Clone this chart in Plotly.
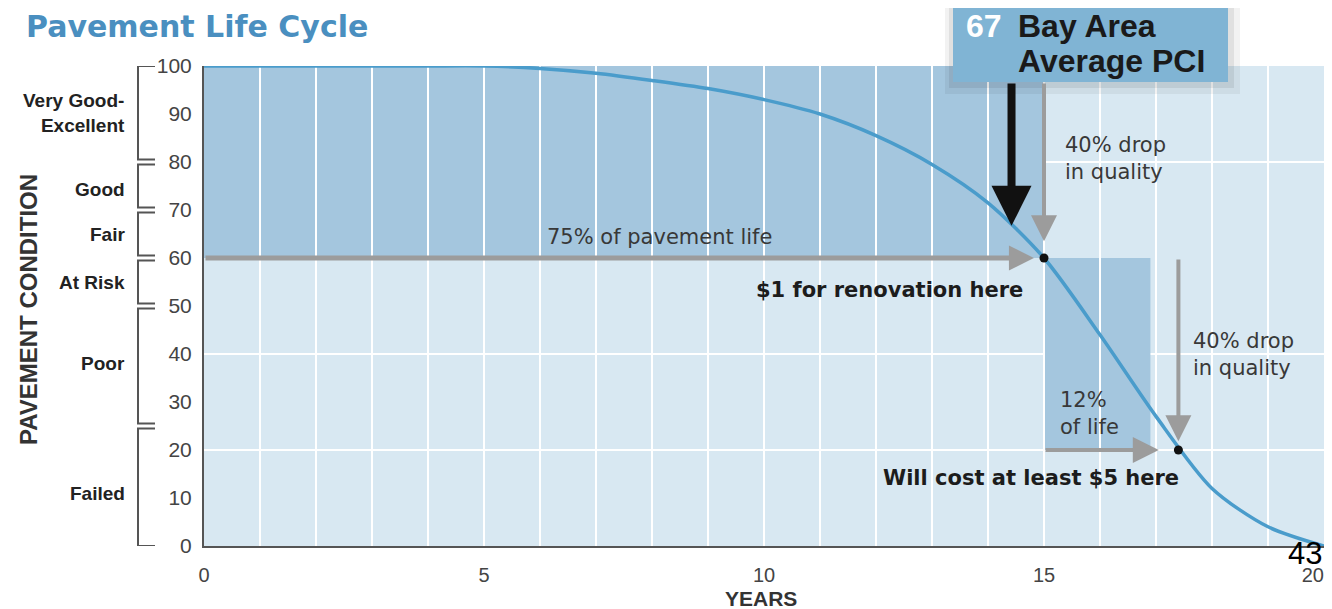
import plotly.graph_objects as go

# ---------------- data ----------------
years = list(range(21))
pci = [100, 100, 100, 100, 100, 100, 99.5, 98.5, 97, 95.3, 93, 90, 85.5, 79.5, 71.5, 60, 44, 27, 12, 4, 0]

x_ticks = [0, 5, 10, 15, 20]
x_tick_text = ["0", "5", "10", "15", "20\u2007\u2007"]
y_ticks = [0, 10, 20, 30, 40, 50, 60, 70, 80, 90, 100]
y_grid = [20, 40, 80]

band_labels = ["Very Good-<br>Excellent", "Good", "Fair", "At Risk", "Poor", "Failed"]
band_top = [100, 80, 70, 60, 50, 25]
band_bot = [80, 70, 60, 50, 25, 0]
band_label_y = [90.2, 74.2, 65, 55, 38, 11]

renew_x, renew_y = 15, 60          # $1 renovation point
late_x, late_y = 17.4, 20          # $5 point
late_zone_right = 16.9
bay_avg_pci = 67
bay_avg_year = 14.42

# ---------------- geometry helpers ----------------
# the page body adds an 8px offset, so the figure margins are shifted by 8px
W, H = 1332, 609
OFF = 8
L, R, T, B = 204 - OFF, 16, 66 - OFF, 71
PW, PH = W - L - R, H - T - B   # 1120 x 480
def px(xp):   # screen pixel -> paper x
    return (xp - OFF - L) / PW
def py(yp):   # screen pixel -> paper y
    return (H - B - (yp - OFF)) / PH

CURVE = "#4a9ccb"
DARK = "#a4c6de"
LIGHT = "#d8e8f2"
GRAY = "#9c9c9c"

fig = go.Figure()

fig.add_trace(go.Scatter(
    x=years, y=pci, mode="lines", line=dict(color=CURVE, width=3.5, shape="spline", smoothing=0.8),
    cliponaxis=False, hoverinfo="skip", showlegend=False))

fig.add_trace(go.Scatter(
    x=[renew_x, late_x], y=[renew_y, late_y], mode="markers",
    marker=dict(color="#111111", size=9), cliponaxis=False, showlegend=False))

shapes = []
shapes.append(dict(type="rect", xref="x", yref="y", x0=0, x1=renew_x, y0=renew_y, y1=100,
                   fillcolor=DARK, line_width=0, layer="below"))
shapes.append(dict(type="rect", xref="x", yref="y", x0=renew_x, x1=late_zone_right, y0=late_y, y1=renew_y,
                   fillcolor=DARK, line_width=0, layer="below"))
for g in y_grid:
    shapes.append(dict(type="line", xref="paper", yref="y", x0=0, x1=1, y0=g, y1=g,
                       line=dict(color="white", width=2), layer="between"))

# brackets
bx, tx = px(138), px(155)
for top, bot in zip(band_top, band_bot):
    t = top - (0.5 if top < 100 else 0)
    b = bot + (0.5 if bot > 0 else 0)
    shapes.append(dict(type="path", xref="paper", yref="y",
                       path=f"M {tx} {t} L {bx} {t} L {bx} {b} L {tx} {b}",
                       line=dict(color="#555555", width=2)))

# callout box shadow + box
shapes.append(dict(type="rect", xref="paper", yref="paper", x0=px(945), x1=px(1240), y0=py(94), y1=py(-10),
                   fillcolor="rgba(0,0,0,0.05)", line_width=0, layer="above"))
shapes.append(dict(type="rect", xref="paper", yref="paper", x0=px(949), x1=px(1234), y0=py(88), y1=py(-10),
                   fillcolor="rgba(0,0,0,0.07)", line_width=0, layer="above"))
shapes.append(dict(type="rect", xref="paper", yref="paper", x0=px(953), x1=px(1228), y0=py(82), y1=py(-10),
                   fillcolor="#80b4d4", line_width=0, layer="above"))

ann = []
ann.append(dict(text="<b>Pavement Life Cycle</b>", xref="paper", yref="paper", x=px(24), y=py(26),
                xanchor="left", yanchor="middle", showarrow=False,
                font=dict(family="DejaVu Sans", size=30, color="#4a8fc0")))
for lab, yv in zip(band_labels, band_label_y):
    ann.append(dict(text=f"<b>{lab}</b>", xref="paper", yref="y", x=px(127), y=yv,
                    xanchor="right", yanchor="middle", align="right", showarrow=False,
                    font=dict(family="Liberation Sans Narrow, Liberation Sans", size=19, color="#222222")))
ann.append(dict(text="<b>PAVEMENT CONDITION</b>", xref="paper", yref="paper", x=px(28), y=py(310),
                textangle=-90, showarrow=False, xanchor="center", yanchor="middle",
                font=dict(family="Liberation Sans", size=24, color="#333333")))
ann.append(dict(text="<b>YEARS</b>", xref="paper", yref="paper", x=px(761), y=py(598),
                showarrow=False, xanchor="center", yanchor="middle",
                font=dict(family="Liberation Sans", size=21, color="#333333")))

ann.append(dict(text="<b>67</b>", xref="paper", yref="paper", x=px(984), y=py(26),
                showarrow=False, xanchor="center", yanchor="middle",
                font=dict(family="Liberation Sans", size=32, color="white")))
ann.append(dict(text="<b>Bay Area</b>", xref="paper", yref="paper", x=px(1016), y=py(26),
                showarrow=False, xanchor="left", yanchor="middle",
                font=dict(family="Liberation Sans", size=32, color="#1a1a1a")))
ann.append(dict(text="<b>Average PCI</b>", xref="paper", yref="paper", x=px(1016), y=py(61),
                showarrow=False, xanchor="left", yanchor="middle",
                font=dict(family="Liberation Sans", size=32, color="#1a1a1a")))

def arrow(x0, y0, x1, y1, color, width, size):
    return dict(x=x1, y=y1, ax=x0, ay=y0, xref="x", yref="y", axref="x", ayref="y",
                text="", showarrow=True, arrowhead=2, arrowsize=size, arrowwidth=width,
                arrowcolor=color, standoff=0)

top_y = (546 - 82) / 4.8
ann.append(arrow(bay_avg_year, top_y, bay_avg_year, bay_avg_pci - 0.3, "#111111", 8, 1.0))
ann.append(arrow(renew_x, top_y, renew_x, renew_y + 3.5, GRAY, 4, 1.3))
ann.append(arrow(0, renew_y, renew_x - 0.18, renew_y, GRAY, 5, 1.0))
ann.append(arrow(late_x, renew_y, late_x, late_y + 1.8, GRAY, 4, 1.3))
ann.append(arrow(renew_x, late_y, late_x - 0.35, late_y, GRAY, 4, 1.3))

reg = dict(family="DejaVu Sans", size=21, color="#383838")
bold = dict(family="DejaVu Sans", size=21, color="#1c1c1c")
ann.append(dict(text="40% drop<br>in quality", x=15.34, y=80.8, xanchor="left", yanchor="middle",
                align="left", showarrow=False, font=reg))
ann.append(dict(text="40% drop<br>in quality", x=17.62, y=39.8, xanchor="left", yanchor="middle",
                align="left", showarrow=False, font=reg))
ann.append(dict(text="12%<br>of life", x=15.25, y=27.6, xanchor="left", yanchor="middle",
                align="left", showarrow=False, font=reg))
ann.append(dict(text="75% of pavement life", x=8.14, y=64.4, xanchor="center", yanchor="middle",
                showarrow=False, font=reg))
ann.append(dict(text="<b>$1 for renovation here</b>", x=14.66, y=53.4, xanchor="right", yanchor="middle",
                showarrow=False, font=bold))
ann.append(dict(text="<b>Will cost at least $5 here</b>", x=17.45, y=14.2, xanchor="right", yanchor="middle",
                showarrow=False, font=bold))
ann.append(dict(text="43", xref="paper", yref="paper", x=px(1305), y=py(553), showarrow=False,
                xanchor="center", yanchor="middle",
                font=dict(family="Liberation Sans", size=31, color="#000000")))

fig.update_layout(
    width=W, height=H,
    margin=dict(l=L, r=R, t=T, b=B),
    paper_bgcolor="white", plot_bgcolor=LIGHT,
    shapes=shapes, annotations=ann, showlegend=False,
    xaxis=dict(range=[0, 20], tickvals=x_ticks, ticktext=x_tick_text,
               showgrid=True, gridcolor="white", gridwidth=2,
               minor=dict(dtick=1, showgrid=True, gridcolor="white", gridwidth=2),
               showline=True, linecolor="#555555", linewidth=2, zeroline=False,
               ticks="", ticklabelstandoff=10, automargin=False, ticklabeloverflow="allow",
               tickfont=dict(family="Liberation Sans", size=20, color="#444444")),
    yaxis=dict(range=[0, 100], tickvals=y_ticks, showgrid=False,
               showline=True, linecolor="#555555", linewidth=2, zeroline=False,
               ticks="", ticklabelstandoff=6, automargin=False,
               tickfont=dict(family="Liberation Sans", size=21, color="#444444")),
)

fig.write_html("out.html")
